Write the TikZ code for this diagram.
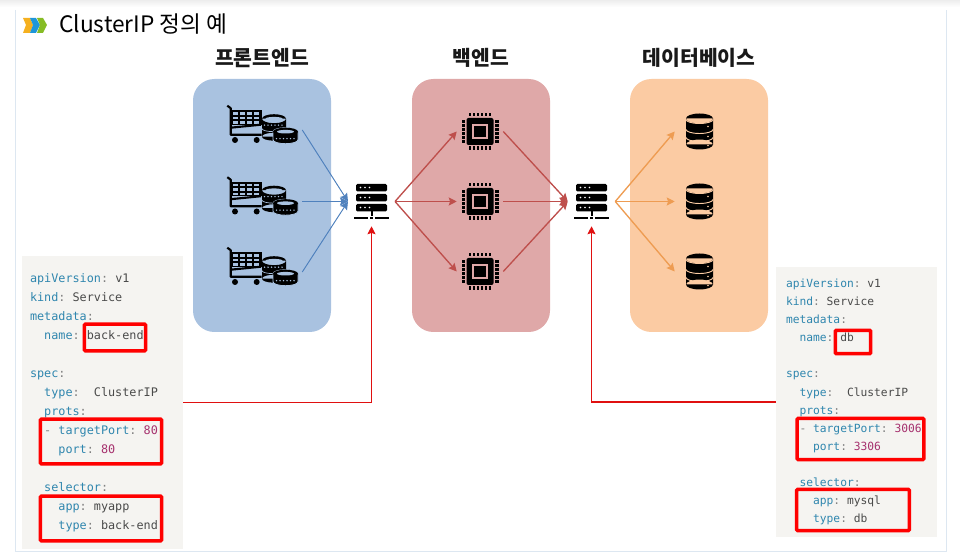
\documentclass[tikz,border=0pt]{standalone}
\usepackage{fontspec}
\setmainfont{Noto Sans CJK KR}
\setmonofont{DejaVu Sans Mono}
\usepackage{tikz}
\usetikzlibrary{arrows.meta,positioning,calc}
\definecolor{fec}{HTML}{A9C2E0}
\definecolor{bec}{HTML}{DFA8A8}
\definecolor{dbc}{HTML}{FBCBA3}
\definecolor{fearrc}{HTML}{4F81BD}
\definecolor{bearrc}{HTML}{BE4F4C}
\definecolor{dbarrc}{HTML}{EE9C52}
\definecolor{linkc}{HTML}{E01010}
\definecolor{framec}{HTML}{DDE7F1}
\definecolor{codec}{HTML}{F5F4F1}
\definecolor{keyc}{HTML}{2F86AE}
\definecolor{valc}{HTML}{4A4A4A}
\definecolor{numc}{HTML}{A6316E}
\definecolor{chevA}{HTML}{F5B01F}
\definecolor{chevB}{HTML}{1E96D8}
\definecolor{chevC}{HTML}{86BC25}
\newcommand{\yk}[1]{\textcolor{keyc}{#1}\textcolor{gray}{:}}
\newcommand{\yn}[1]{\textcolor{numc}{#1}}
\newcommand{\ys}{\phantom{x}}
\newcommand{\yi}{\phantom{xx}}
\tikzset{
  cart/.pic={
    \draw[line width=1.6pt, line join=round] (-37.7,-25) -- (-34.3,-22.5) -- (-34.3,4) -- (-3.5,4);
    \fill (-34.3,-20.5) rectangle (-3.5,-6);
    \foreach \cx in {-32.3,-25.2,-18.1,-11}
      \foreach \cy in {-18.5,-14,-9.5}
        \fill[fec] (\cx,\cy) rectangle ++(5.4,2.8);
    \draw[line width=1.6pt] (-34.3,-3) -- (-4,-6);
    \fill (-30,9.3) circle (3) (-8.3,9.3) circle (3);
    % coin stacks
    \fill (-3,-12) rectangle (21,6) (9,6) ellipse (12 and 4) (9,-12) ellipse (12 and 4.5);
    \fill[fec] (9,-12) ellipse (8.5 and 1.8);
    \draw[fec, line width=.5pt] (-3,-2) arc[start angle=180, end angle=360, x radius=12, y radius=-3];
    \foreach \cx in {-0.5,3,...,18} \fill[fec] (\cx,-5.5) circle (.8);
    \fill[draw=fec, line width=.6pt] (8,1) -- (8,9) arc[start angle=180, end angle=360, x radius=12.5, y radius=-4] -- (33,1) arc[start angle=0, end angle=180, x radius=12.5, y radius=-4];
    \fill (20.5,1) ellipse (12.5 and 4);
    \fill[fec] (20.5,1) ellipse (8.5 and 1.8);
    \foreach \cx in {11.5,15,...,30} \fill[fec] (\cx,8) circle (.8);
  },
  chip/.pic={
    \fill[rounded corners=1.5pt] (-13.5,-13.5) rectangle (13.5,13.5);
    \fill[bec] (-7.8,-7.8) rectangle (7.8,7.8);
    \fill (-5.8,-5.8) rectangle (5.8,5.8);
    \foreach \p in {-10,-6,-2,2,6,10} {
      \fill (\p-1.1,-18.5) rectangle (\p+1.1,-15);
      \fill (\p-1.1,15) rectangle (\p+1.1,18.5);
      \fill (-18.5,\p-1.1) rectangle (-15,\p+1.1);
      \fill (15,\p-1.1) rectangle (18.5,\p+1.1);
    }
  },
  dbcyl/.pic={
    \fill (-13.5,-13) rectangle (13.5,13) (0,13) ellipse (13.5 and 5) (0,-13) ellipse (13.5 and 5);
    \foreach \ly in {-12,-2,6}
      \draw[dbc, line width=.7pt] (-13.5,\ly) arc[start angle=180, end angle=360, x radius=13.5, y radius=-4];
    \foreach \ly in {-5,5,14} \fill[dbc] (8.5,\ly) circle (.8);
  },
  srv/.pic={
    \foreach \ly in {-17.5,-7.5,2.5} {
      \fill[rounded corners=1pt] (-15.5,\ly) rectangle (15.5,\ly+7.5);
      \foreach \lx in {-11,-6.5,-2} \fill[white] (\lx,\ly+3.5) circle (.8);
    }
    \fill (-1,9.5) rectangle (1,15);
    \fill (-17.5,15.5) rectangle (-3.5,18);
    \fill (-1.5,15.5) rectangle (1.5,18);
    \fill (3.5,15.5) rectangle (17.5,18);
  }
}
\begin{document}
\begin{tikzpicture}[
  x=0.75pt, y=-0.75pt,
  panel/.style={rounded corners=16pt, minimum width=103.5pt, minimum height=189.75pt, inner sep=0pt},
  head/.style={font=\fontsize{15.3}{17}\selectfont\bfseries, text=black!90, inner sep=0pt},
  iconbox/.style={inner sep=0pt, minimum height=24pt},
  code/.style={fill=codec, inner sep=6pt, text width=108.75pt, align=left, text=valc, font=\ttfamily},
  hilite/.style={draw=red, line width=2.7pt, rounded corners=.8pt, inner sep=0pt},
  fearr/.style={-{Stealth[length=6pt, width=6pt, inset=1pt]}, draw=fearrc, fill=fearrc, line width=.7pt},
  bearr/.style={-{Stealth[length=6pt, width=6pt, inset=1pt]}, draw=bearrc, fill=bearrc, line width=1pt},
  dbarr/.style={-{Stealth[length=6pt, width=6pt, inset=1pt]}, draw=dbarrc, fill=dbarrc, line width=1pt},
  linkarr/.style={-{Stealth[length=6pt, width=6pt, inset=1pt]}, draw=linkc, line width=.85pt}
]
  \useasboundingbox (0,0) rectangle (960,555);
  \shade[top color=black!7, bottom color=white] (0,0) rectangle (960,7);
  \coordinate (frameA) at (15,10);
  \coordinate (frameB) at (946,10);
  \draw[framec, line width=.75pt] (frameA) -- (frameA |- 0,551) -- (frameB |- 0,551) -- (frameB);

  % title
  \fill[chevA] (23,18) -- (30,18) -- (33,25) -- (30,33) -- (23,33) -- (26,25) -- cycle;
  \fill[chevB] (30,18) -- (36,18) -- (40,25) -- (36,33) -- (30,33) -- (33,25) -- cycle;
  \fill[chevC] (37,18) -- (43,18) -- (47,25) -- (43,33) -- (37,33) -- (40,25) -- cycle;
  \node[anchor=base west, inner sep=0pt, font=\fontsize{17}{19}\selectfont] (title) at (59,33) {ClusterIP 정의 예};

  % three tiers
  \node[panel, fill=fec] (feBox) at (262,205.5) {};
  \node[panel, fill=bec] (beBox) at (481,205.5) {};
  \node[panel, fill=dbc] (dbBox) at (699,205.5) {};
  \node[head, above=8pt of feBox] (feHead) {프론트엔드};
  \node[head, above=8pt of beBox] (beHead) {백엔드};
  \node[head, above=8pt of dbBox] (dbHead) {데이터베이스};

  \foreach \n/\y in {A/130,B/201.5,C/272} {
    \node[iconbox, minimum width=55.5pt] (cart\n) at (265,\y) {};
    \pic at ($(cart\n)+(0,0.7)$) {cart};
  }
  \foreach \n/\y in {A/131.5,B/201.5,C/271.5} {
    \node[iconbox, minimum width=34.5pt] (chip\n) at (480,\y) {};
    \pic at (chip\n) {chip};
    \node[iconbox, minimum width=36.75pt] (db\n) at (699.5,\y) {};
    \pic at (db\n) {dbcyl};
  }
  \node[iconbox, minimum width=34.875pt, minimum height=36.75pt] (srvFe) at (371.5,201.5) {};
  \node[iconbox, minimum width=35.25pt, minimum height=36.75pt] (srvBe) at (591.5,201.5) {};
  \pic at (srvFe) {srv};
  \pic at (srvBe) {srv};

  \foreach \n in {A,B,C} {
    \draw[fearr] (cart\n.east) -- (srvFe.west);
    \draw[bearr] (srvFe.east) -- (chip\n.west);
    \draw[bearr] (chip\n.east) -- (srvBe.west);
    \draw[dbarr] (srvBe.east) -- (db\n.west);
  }

  % yaml
  \node[code, minimum height=219.75pt, minimum width=120.75pt, font=\ttfamily\fontsize{8.85}{14.25}\selectfont] (codeFe) at (102.5,402.5) {%
    \yk{apiVersion}\ys v1\\
    \yk{kind}\ys Service\\
    \yk{metadata}\\
    \yi\yk{name}\ys back-end\\
    \mbox{}\\
    \yk{spec}\\
    \yi\yk{type}\ys\ys ClusterIP\\
    \yi\yk{prots}\\
    \yi\textcolor{gray}{-}\ys\yk{targetPort}\ys\yn{80}\\
    \yi\yi\yk{port}\ys\yn{80}\\
    \mbox{}\\
    \yi\yk{selector}\\
    \yi\yi\yk{app}\ys myapp\\
    \yi\yi\yk{type}\ys back-end};
  \node[code, inner xsep=7.5pt, text width=105.75pt, minimum height=202.5pt, minimum width=120.75pt, font=\ttfamily\fontsize{8.45}{13.6}\selectfont] (codeBe) at (856.5,402) {%
    \yk{apiVersion}\ys v1\\
    \yk{kind}\ys Service\\
    \yk{metadata}\\
    \yi\yk{name}\ys db\\
    \mbox{}\\
    \yk{spec}\\
    \yi\yk{type}\ys\ys ClusterIP\\
    \yi\yk{prots}\\
    \yi\textcolor{gray}{-}\ys\yk{targetPort}\ys\yn{3006}\\
    \yi\yi\yk{port}\ys\yn{3306}\\
    \mbox{}\\
    \yi\yk{selector}\\
    \yi\yi\yk{app}\ys mysql\\
    \yi\yi\yk{type}\ys db};
  \draw[linkarr] (codeFe.east) -| (srvFe.south);
  \draw[linkarr] (codeBe.west) -| (srvBe.south);

  \node[hilite, minimum width=46pt, minimum height=20pt] (hlNameFe) at (115,337.5) {};
  \node[hilite, minimum width=91pt, minimum height=33.5pt] (hlPortFe) at (101,441.5) {};
  \node[hilite, minimum width=91pt, minimum height=33.5pt] (hlSelFe) at (101,518.5) {};
  \node[hilite, minimum width=26.5pt, minimum height=17.5pt] (hlNameBe) at (853,342) {};
  \node[hilite, minimum width=95pt, minimum height=31pt] (hlPortBe) at (860.5,439) {};
  \node[hilite, minimum width=84.5pt, minimum height=31pt] (hlSelBe) at (853,510) {};
\end{tikzpicture}
\end{document}
